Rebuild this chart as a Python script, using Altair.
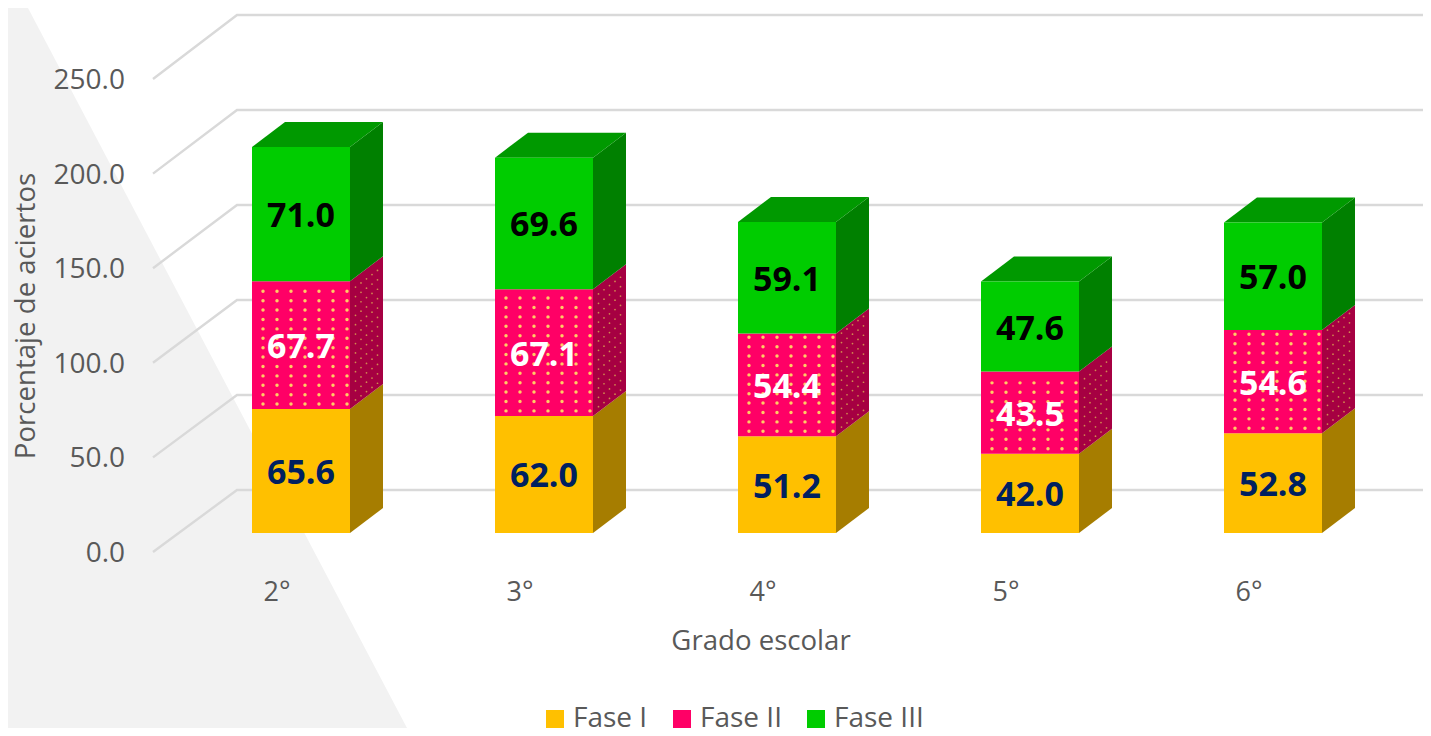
import altair as alt
import pandas as pd

grades = ["2°", "3°", "4°", "5°", "6°"]
fase1 = [65.6, 62.0, 51.2, 42.0, 52.8]
fase2 = [67.7, 67.1, 54.4, 43.5, 54.6]
fase3 = [71.0, 69.6, 59.1, 47.6, 57.0]
phases = ["Fase I", "Fase II", "Fase III"]
front = ["#FFC000", "#FF0066", "#00CC00"]
side = ["#A67D00", "#A60042", "#008000"]
top_col = "#009900"
label_col = ["#002060", "#FFFFFF", "#000000"]
ticks = [0, 50, 100, 150, 200, 250]

FONT = "Open Sans"
W, H = 1415, 720
# scale: 1 x-unit = one category step, y-unit = one percentage point
STEP, KY, X0, Y0 = 243.0, 1.889, 301.0, 533.0
ux = lambda X: (X - X0) / STEP
uy = lambda Y: (Y0 - Y) / KY
xdom = [ux(8), ux(8 + W)]
ydom = [uy(8 + H), uy(8)]
xs = alt.Scale(domain=xdom, nice=False, zero=False)
ys = alt.Scale(domain=ydom, nice=False, zero=False)
HALF = 49 / STEP
DX, DY = 33 / STEP, 25 / KY
X_ = lambda f="x": alt.X(f"{f}:Q", scale=xs, axis=None)
Y_ = lambda f="y": alt.Y(f"{f}:Q", scale=ys, axis=None)

fronts, sides, tops, labels, dots = [], [], [], [], []
for i, g in enumerate(grades):
    base = 0.0
    vals = [fase1[i], fase2[i], fase3[i]]
    for p, v in enumerate(vals):
        t = base + v
        l, r = i - HALF, i + HALF
        fronts.append(dict(x=l, x2=r, y=base, y2=t, phase=phases[p]))
        k = f"{i}-{p}"
        sides += [dict(k=k, x=r, y=base, y2=t, c=side[p]),
                  dict(k=k, x=r + DX, y=base + DY, y2=t + DY, c=side[p])]
        labels.append(dict(x=i, y=(base + t) / 2, t=f"{v:.1f}", c=label_col[p]))
        if p == 1:
            Yt, Yb = Y0 - t * KY, Y0 - base * KY
            Y = Yb - 5
            while Y > Yt + 2:
                Xd = X0 + STEP * i - 38
                while Xd < X0 + STEP * i + 49:
                    dots.append(dict(x=ux(Xd), y=uy(Y), s=12, c="#FFCC66"))
                    Xd += 14
                for n in range(1, 6):
                    sx = 5.5 * n
                    dots.append(dict(x=r + sx / STEP, y=uy(Y - sx * 25 / 33), s=3, c="#D08A50"))
                Y -= 9.4
        base = t
    k = f"top-{i}"
    tops += [dict(k=k, x=i - HALF, y=base, y2=base, c=top_col),
             dict(k=k, x=i - HALF + DX, y=base, y2=base + DY, c=top_col),
             dict(k=k, x=i + HALF, y=base, y2=base + DY, c=top_col),
             dict(k=k, x=i + HALF + DX, y=base + DY, y2=base + DY, c=top_col)]

# legend swatch dots
for X, Y in [(677, 713), (686, 713), (677, 723), (686, 723)]:
    dots.append(dict(x=ux(X), y=uy(Y), s=6, c="#FFCC66"))

# walls
grid = []
for tv in ticks:
    Yf = 552 - tv * 1.892
    Yb = 490 - tv * 1.9
    grid += [dict(t=tv, o=0, x=ux(153), y=uy(Yf)),
             dict(t=tv, o=1, x=ux(237), y=uy(Yb)),
             dict(t=tv, o=2, x=xdom[1], y=uy(Yb))]

tri = pd.DataFrame([
    dict(x=xdom[0], y=ydom[1], y2=ydom[0]),
    dict(x=ux(28), y=ydom[1], y2=ydom[0]),
    dict(x=ux(407), y=ydom[0], y2=ydom[0]),
])
tick_df = pd.DataFrame([dict(x=ux(125), y=uy(552 - tv * 1.892), t=f"{tv:.1f}") for tv in ticks])
cat_df = pd.DataFrame([dict(x=ux(277 + 243 * i), y=uy(591), t=g) for i, g in enumerate(grades)])

bg = alt.Chart(tri).mark_area(color="#F2F2F2", orient="vertical").encode(x=X_(), y=Y_(), y2="y2:Q")
grid_l = alt.Chart(pd.DataFrame(grid)).mark_line(color="#D9D9D9", strokeWidth=2.4).encode(
    x=X_(), y=Y_(), detail="t:N", order="o:Q")
tick_t = alt.Chart(tick_df).mark_text(font=FONT, fontSize=28, color="#595959", align="right", baseline="middle", dy=2).encode(
    x=X_(), y=Y_(), text="t:N")
cat_t = alt.Chart(cat_df).mark_text(font=FONT, fontSize=27, color="#595959", align="center", baseline="middle", dy=2).encode(
    x=X_(), y=Y_(), text="t:N")
xt = alt.Chart(pd.DataFrame([dict(x=ux(761), y=uy(640), t="Grado escolar")])).mark_text(
    font=FONT, fontSize=27.6, color="#595959", align="center", baseline="middle", dy=2).encode(x=X_(), y=Y_(), text="t:N")
yt = alt.Chart(pd.DataFrame([dict(x=ux(27), y=uy(316), t="Porcentaje de aciertos")])).mark_text(
    font=FONT, fontSize=27.6, color="#595959", align="center", baseline="middle", angle=270).encode(x=X_(), y=Y_(), text="t:N")

sides_l = alt.Chart(pd.DataFrame(sides)).mark_area(orient="vertical").encode(
    x=X_(), y=Y_(), y2="y2:Q", detail="k:N", color=alt.Color("c:N", scale=None))
tops_l = alt.Chart(pd.DataFrame(tops)).mark_area(orient="vertical").encode(
    x=X_(), y=Y_(), y2="y2:Q", detail="k:N", color=alt.Color("c:N", scale=None))
fronts_l = alt.Chart(pd.DataFrame(fronts)).mark_rect().encode(
    x=X_(), x2="x2:Q", y=Y_(), y2="y2:Q",
    color=alt.Color("phase:N", scale=alt.Scale(domain=phases, range=front), legend=alt.Legend(
        title=None, orient="none", legendX=533, legendY=697, direction="horizontal", columns=3,
        columnPadding=20, symbolType="square", symbolSize=324, symbolStrokeWidth=0, symbolOpacity=1,
        zindex=0,
        labelFont=FONT, labelFontSize=28, labelColor="#595959", labelOffset=4, labelLimit=200)))
dots_l = alt.Chart(pd.DataFrame(dots)).mark_point(filled=True, opacity=1, stroke=None).encode(
    x=X_(), y=Y_(), size=alt.Size("s:Q", scale=None), color=alt.Color("c:N", scale=None))
labels_l = alt.Chart(pd.DataFrame(labels)).mark_text(font=FONT, fontSize=34, fontWeight="bold", baseline="middle", dy=3).encode(
    x=X_(), y=Y_(), text="t:N", color=alt.Color("c:N", scale=None))

chart = alt.layer(bg, grid_l, tick_t, cat_t, xt, yt, sides_l, tops_l, fronts_l, dots_l, labels_l).resolve_scale(
    color="independent"
).properties(
    width=W, height=H, padding=0, autosize=alt.AutoSizeParams(type="none"), background="#FFFFFF"
).configure_view(stroke=None)

chart.save("out.html", embed_options={"renderer": "svg", "actions": False})
